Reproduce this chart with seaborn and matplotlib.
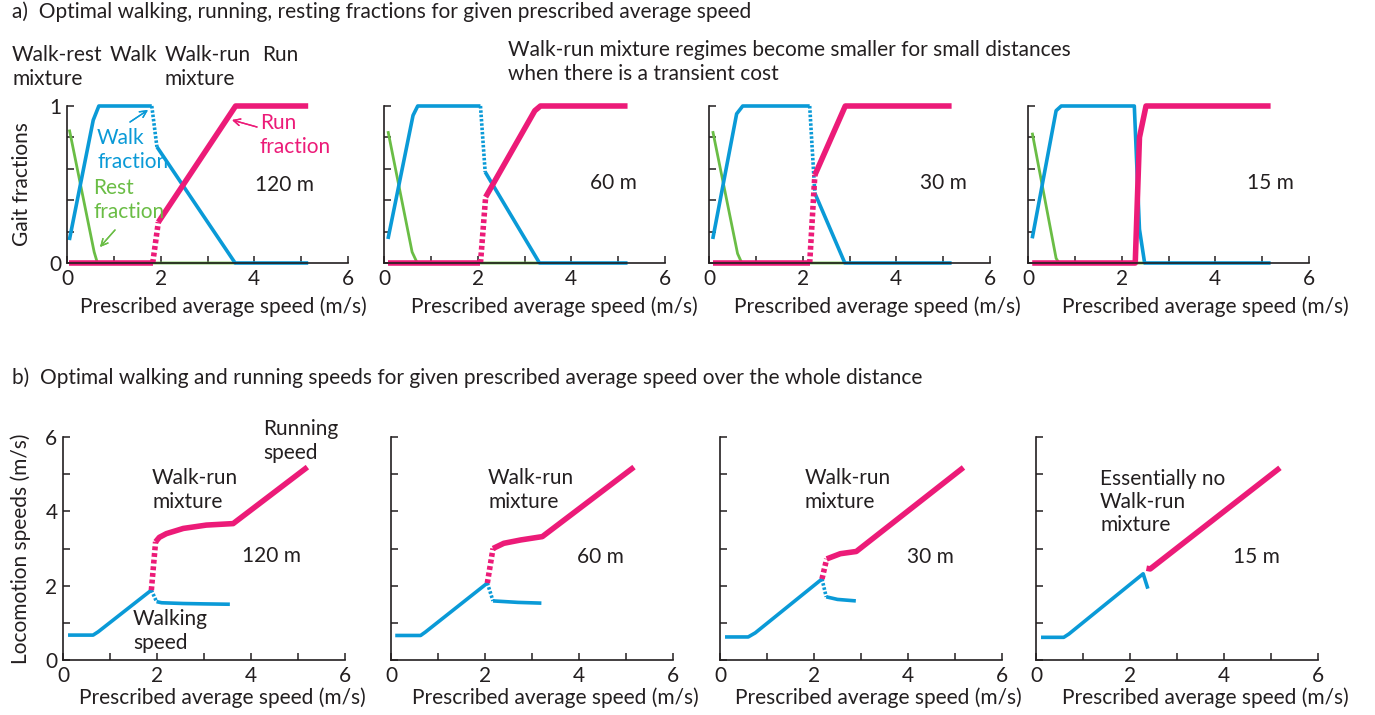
import seaborn as sns
import pandas as pd
import matplotlib.pyplot as plt
from matplotlib.ticker import MultipleLocator

# ---- data ----
distances = ["120 m", "60 m", "30 m", "15 m"]

# a) gait fractions vs prescribed average speed
walk_frac_x = [[0.05, 0.56, 0.68, 1.81, 1.92, 3.59, 5.15],
               [0.085, 0.62, 0.72, 2.06, 2.16, 3.32, 5.2],
               [0.08, 0.59, 0.72, 2.15, 2.26, 2.9, 5.18],
               [0.09, 0.6, 0.71, 2.27, 2.38, 2.49, 5.18]]
walk_frac_y = [[0.146, 0.91, 1, 1, 0.74, 0, 0],
               [0.153, 0.94, 1, 1, 0.58, 0, 0],
               [0.153, 0.95, 1, 1, 0.445, 0, 0],
               [0.157, 0.97, 1, 1, 0.215, 0, 0]]
walk_frac_dotted = [3, 3, 3, None]

run_frac_x = [[0.05, 1.83, 1.95, 3.6, 5.15],
              [0.085, 2.06, 2.17, 3.22, 3.34, 5.2],
              [0.08, 2.15, 2.26, 2.91, 5.18],
              [0.09, 2.29, 2.38, 2.52, 5.18]]
run_frac_y = [[0, 0, 0.26, 1, 1],
              [0, 0, 0.42, 0.97, 1, 1],
              [0, 0, 0.56, 1, 1],
              [0, 0, 0.8, 1, 1]]
run_frac_dotted = [1, 1, 1, None]

rest_frac_x = [[0.05, 0.58, 0.65, 3.6],
               [0.085, 0.6, 0.71, 3.3],
               [0.08, 0.61, 0.7, 2.9],
               [0.09, 0.6, 0.66, 2.5]]
rest_frac_y = [[0.85, 0.07, 0, 0],
               [0.84, 0.07, 0, 0],
               [0.84, 0.06, 0, 0],
               [0.83, 0.03, 0, 0]]

# b) locomotion speeds vs prescribed average speed
walk_spd_x = [[0.107, 0.64, 0.75, 1.88, 1.99, 2.1, 2.56, 3.0, 3.55],
              [0.09, 0.63, 0.73, 2.05, 2.17, 2.7, 3.2],
              [0.107, 0.6, 0.75, 2.17, 2.26, 2.5, 2.89],
              [0.107, 0.59, 0.7, 2.28, 2.38]]
walk_spd_y = [[0.67, 0.67, 0.76, 1.88, 1.57, 1.54, 1.52, 1.51, 1.50],
              [0.66, 0.66, 0.75, 2.07, 1.59, 1.55, 1.53],
              [0.62, 0.62, 0.73, 2.18, 1.70, 1.63, 1.59],
              [0.61, 0.61, 0.70, 2.32, 1.92]]
walk_spd_dotted = [3, 3, 3, None]

run_spd_x = [[1.88, 1.97, 2.05, 2.2, 2.56, 3.05, 3.62, 5.2],
             [2.05, 2.17, 2.4, 2.76, 3.22, 5.17],
             [2.17, 2.27, 2.56, 2.9, 5.18],
             [2.35, 2.43, 5.19]]
run_spd_y = [[1.88, 3.18, 3.30, 3.40, 3.54, 3.63, 3.67, 5.19],
             [2.07, 3.0, 3.14, 3.23, 3.32, 5.19],
             [2.18, 2.72, 2.86, 2.92, 5.18],
             [2.47, 2.45, 5.17]]
run_spd_dotted = [0, 0, 0, None]

BLUE = "#0A9AD7"
PINK = "#EC1B78"
GREEN = "#6ABD45"
INK = "#231F20"
W, H = 1375, 715

sns.set_theme(style="ticks")
plt.rcParams["font.family"] = ["Lato", "DejaVu Sans"]
plt.rcParams["text.color"] = INK
FS = 15


def draw_curve(ax, xs, ys, dotted, color, lw):
    # split a polyline into solid pieces and one dotted jump segment
    n = len(xs)
    pieces = []
    if dotted is None:
        pieces.append((0, n - 1, "-"))
    else:
        if dotted > 0:
            pieces.append((0, dotted, "-"))
        pieces.append((dotted, dotted + 1, (0, (0.7, 0.5))))
        if dotted + 1 < n - 1:
            pieces.append((dotted + 1, n - 1, "-"))
    for a, b, ls in pieces:
        df = pd.DataFrame({"x": xs[a:b + 1], "y": ys[a:b + 1]})
        sns.lineplot(data=df, x="x", y="y", ax=ax, sort=False, estimator=None,
                     color=color, lw=lw, linestyle=ls, clip_on=False,
                     solid_capstyle="butt", dash_capstyle="butt")


def style_axes(ax, ymax, ystep, yminor):
    sns.despine(ax=ax)
    ax.set_xlim(0, 6)
    ax.set_ylim(0, ymax)
    ax.xaxis.set_major_locator(MultipleLocator(2))
    ax.xaxis.set_minor_locator(MultipleLocator(1))
    ax.yaxis.set_major_locator(MultipleLocator(ystep))
    ax.yaxis.set_minor_locator(MultipleLocator(yminor))
    ax.tick_params(which="both", direction="in", length=5, width=1.1,
                   colors=INK, labelsize=FS, pad=4)
    for s in ("left", "bottom"):
        ax.spines[s].set_color(INK)
        ax.spines[s].set_linewidth(1.2)
    ax.set_facecolor("none")


fig = plt.figure(figsize=(W / 100, H / 100), dpi=100)


def ftext(x, y, s, **kw):
    kw.setdefault("fontsize", FS)
    kw.setdefault("va", "center")
    kw.setdefault("linespacing", 1.2)
    fig.text(x / W, 1 - y / H, s, **kw)


top_left = [67, 384, 709, 1028]
bot_left = [63, 391, 720, 1036]
top_xlab = [0.555, 0.608, 0.60, 0.63]
bot_xlab = [0.564, 0.584, 0.56, 0.60]
top_dist_pos = [(255, 185), (590, 183), (920, 183), (1247, 183)]
bot_dist_pos = [(242, 556), (577, 557), (907, 557), (1233, 557)]

for i, d in enumerate(distances):
    ax = fig.add_axes([top_left[i] / W, 1 - 263 / H, 281 / W, 157 / H])
    draw_curve(ax, rest_frac_x[i], rest_frac_y[i], None, GREEN, 2.0)
    draw_curve(ax, walk_frac_x[i], walk_frac_y[i], walk_frac_dotted[i], BLUE, 2.6)
    draw_curve(ax, run_frac_x[i], run_frac_y[i], run_frac_dotted[i], PINK, 4.0)
    style_axes(ax, 1, 1, 0.2)
    ax.set_xlabel("Prescribed average speed (m/s)", fontsize=FS, color=INK)
    ax.xaxis.set_label_coords(top_xlab[i], -0.215)
    if i == 0:
        ax.set_ylabel("Gait fractions", fontsize=FS, color=INK)
        ax.yaxis.set_label_coords(-0.125, 0.5)
    else:
        ax.set_ylabel("")
        ax.set_yticklabels([])
    ftext(*top_dist_pos[i], d)

    ax = fig.add_axes([bot_left[i] / W, 1 - 660 / H, 282 / W, 223 / H])
    draw_curve(ax, walk_spd_x[i], walk_spd_y[i], walk_spd_dotted[i], BLUE, 2.6)
    draw_curve(ax, run_spd_x[i], run_spd_y[i], run_spd_dotted[i], PINK, 4.0)
    style_axes(ax, 6, 2, 1)
    ax.set_xlabel("Prescribed average speed (m/s)", fontsize=FS, color=INK)
    ax.xaxis.set_label_coords(bot_xlab[i], -0.125)
    if i == 0:
        ax.set_ylabel("Locomotion speeds (m/s)", fontsize=FS, color=INK)
        ax.yaxis.set_label_coords(-0.113, 0.5)
    else:
        ax.set_ylabel("")
        ax.set_yticklabels([])
    ftext(*bot_dist_pos[i], d)

# titles and annotations
ftext(12, 12, "a)  Optimal walking, running, resting fractions for given prescribed average speed")
ftext(12, 67, "Walk-rest\nmixture")
ftext(110, 55, "Walk")
ftext(165, 67, "Walk-run\nmixture")
ftext(262, 55, "Run")
ftext(508, 62, "Walk-run mixture regimes become smaller for small distances\nwhen there is a transient cost")
ftext(97, 150, "Walk\nfraction", color=BLUE)
ftext(93, 200, "Rest\nfraction", color=GREEN)
ftext(260, 135, "Run\nfraction", color=PINK)

arrow = dict(arrowstyle="->", lw=1.0, shrinkA=0, shrinkB=0)
for (x0, y0, x1, y1, c) in [(130, 122, 148, 110, BLUE), (115, 230, 100, 247, GREEN),
                            (257, 127, 232, 120, PINK)]:
    fig.add_artist(plt.annotate("", xy=(x1 / W, 1 - y1 / H), xytext=(x0 / W, 1 - y0 / H),
                                xycoords="figure fraction", textcoords="figure fraction",
                                arrowprops=dict(arrow, color=c)))

ftext(12, 378, "b)  Optimal walking and running speeds for given prescribed average speed over the whole distance")
ftext(263, 441, "Running\nspeed")
ftext(152, 490, "Walk-run\nmixture")
ftext(133, 631, "Walking\nspeed")
ftext(488, 490, "Walk-run\nmixture")
ftext(805, 490, "Walk-run\nmixture")
ftext(1100, 502, "Essentially no\nWalk-run\nmixture")

fig.savefig("out.png", dpi=100)
